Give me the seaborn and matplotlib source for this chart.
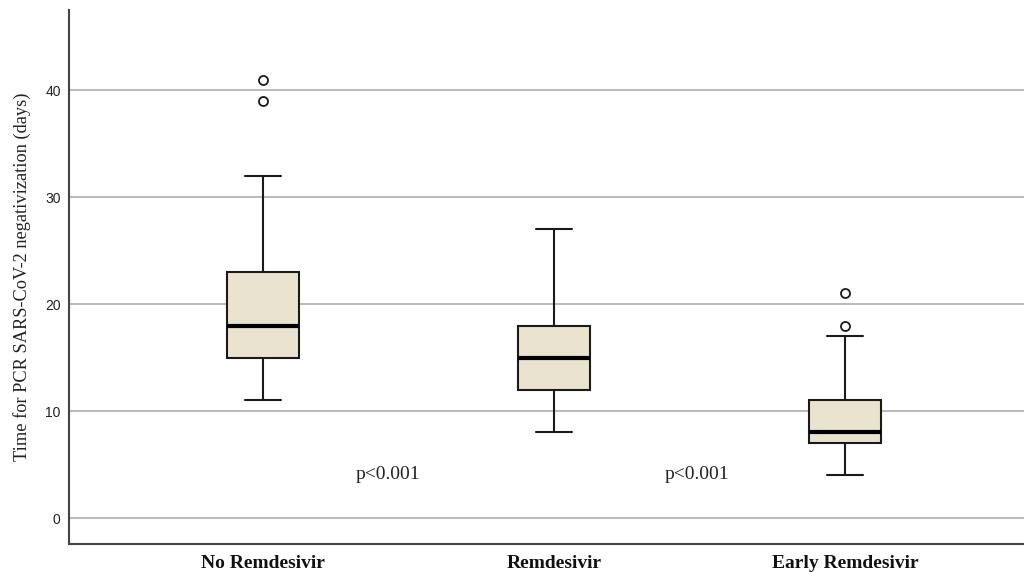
import seaborn as sns
import matplotlib.pyplot as plt
import pandas as pd

# groups and observations (values chosen to match the drawn box stats)
groups = ['No Remdesivir', 'Remdesivir', 'Early Remdesivir']
no_remdesivir = [11, 13, 14, 15, 16, 17, 18, 20, 22, 23, 32, 39, 41]
remdesivir = [8, 10, 12, 13, 15, 16, 18, 22, 27]
early_remdesivir = [4, 5, 6, 7, 7, 8, 8, 9, 10, 11, 17, 18, 21]
yticks = [0, 10, 20, 30, 40]
p_labels = ['p<0.001', 'p<0.001']
p_pos = [0.43, 1.49]

df = pd.DataFrame({
    'group': [groups[0]] * len(no_remdesivir) + [groups[1]] * len(remdesivir)
             + [groups[2]] * len(early_remdesivir),
    'days': no_remdesivir + remdesivir + early_remdesivir,
})

sns.set_style('white')
fig = plt.figure(figsize=(10.24, 5.72), dpi=100)
ax = fig.add_axes([69 / 1024, 28 / 572, 955 / 1024, 534 / 572])

ax.grid(axis='y', color='#b4b4b4', linewidth=1.3)
ax.set_axisbelow(True)

sns.boxplot(data=df, x='group', y='days', order=groups, ax=ax,
            width=0.25, color='#e9e3cf', saturation=1, linecolor='#1a1a1a',
            linewidth=1.5, whis=1.5,
            medianprops=dict(color='black', linewidth=3),
            flierprops=dict(marker='o', markersize=6.5, markerfacecolor='white',
                            markeredgecolor='#1a1a1a', markeredgewidth=1.3))

ax.set_xlim(-0.667, 2.615)
ax.set_ylim(-2.43, 47.5)
ax.set_yticks(yticks)
ax.set_yticklabels([str(t) for t in yticks], fontsize=10,
                   fontfamily='Liberation Sans', color='#222222')
ax.set_xticks(range(len(groups)))
ax.set_xticklabels(groups, fontsize=14, fontweight='bold',
                   fontfamily='Liberation Serif', color='#111111')
ax.tick_params(axis='both', length=0, pad=6)
ax.tick_params(axis='x', pad=8)
ax.set_xlabel('')
ax.set_ylabel('Time for PCR SARS-CoV-2 negativization (days)', fontsize=13.2,
              fontfamily='Liberation Serif', color='#222222', labelpad=10)

for side in ['top', 'right']:
    ax.spines[side].set_visible(False)
for side in ['left', 'bottom']:
    ax.spines[side].set_color('#444444')
    ax.spines[side].set_linewidth(1.5)

for x, lab in zip(p_pos, p_labels):
    ax.text(x, 4.1, lab, ha='center', va='center', fontsize=14,
            fontfamily='Liberation Serif', color='#222222')

fig.savefig('out.png', dpi=100)
